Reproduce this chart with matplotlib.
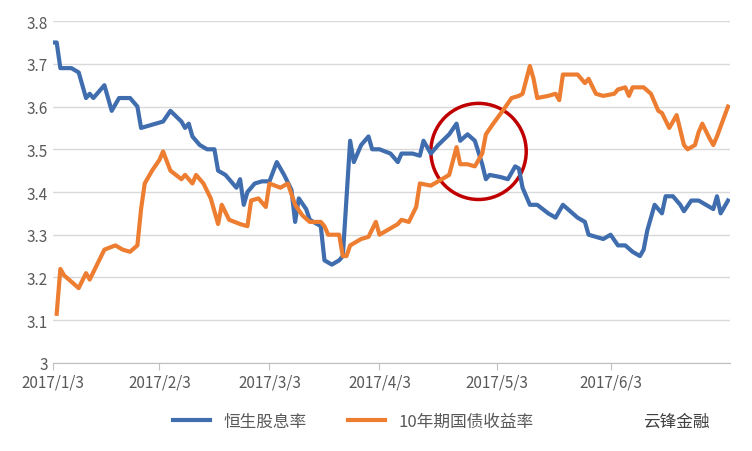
import matplotlib
matplotlib.use("Agg")
import matplotlib.pyplot as plt
from matplotlib.patches import Ellipse

plt.rcParams['font.family'] = ['Noto Sans CJK SC', 'DejaVu Sans']

blue_x = [0,1,2,5,7,9,10,11,14,16,18,21,23,24,26,30,32,35,36,37,38,40,42,44,45,47,48,50,51,52,53,55,57,59,61,63,65,66,67,69,70,72,73,74,76,78,79,81,82,84,86,87,89,92,94,95,98,100,101,103,105,108,110,111,113,115,117,118,119,122,124,126,127,128,130,132,135,137,139,141,143,145,146,148,150,152,154,156,158,160,161,162,164,166,167,169,171,172,174,176,178,180,181,182,184]
blue_y = [3.75,3.75,3.69,3.69,3.68,3.62,3.63,3.62,3.65,3.59,3.62,3.62,3.60,3.55,3.555,3.565,3.59,3.565,3.55,3.56,3.53,3.51,3.50,3.50,3.45,3.44,3.43,3.41,3.43,3.37,3.40,3.42,3.425,3.425,3.47,3.44,3.405,3.33,3.385,3.36,3.335,3.325,3.32,3.24,3.23,3.24,3.25,3.52,3.47,3.51,3.53,3.50,3.50,3.49,3.47,3.49,3.49,3.485,3.52,3.49,3.51,3.535,3.56,3.52,3.535,3.52,3.465,3.43,3.44,3.435,3.43,3.46,3.455,3.41,3.37,3.37,3.35,3.34,3.37,3.355,3.34,3.33,3.30,3.295,3.29,3.30,3.275,3.275,3.26,3.25,3.265,3.31,3.37,3.35,3.39,3.39,3.37,3.355,3.38,3.38,3.37,3.36,3.39,3.35,3.38]

orange_x = [1,2,3,5,7,9,10,12,14,17,19,21,23,24,25,27,29,30,32,35,36,38,39,41,43,45,46,48,51,53,54,56,58,59,62,64,66,68,70,73,74,75,78,79,80,81,84,86,88,89,92,94,95,97,99,100,103,105,108,110,111,113,115,117,118,120,123,125,127,128,130,131,132,135,137,138,139,142,143,145,146,148,150,153,154,156,157,158,161,163,165,166,168,170,172,173,175,176,177,179,180,181,184]
orange_y = [3.115,3.22,3.205,3.19,3.175,3.21,3.195,3.23,3.265,3.275,3.265,3.26,3.275,3.36,3.42,3.45,3.475,3.495,3.45,3.43,3.44,3.42,3.44,3.42,3.385,3.325,3.37,3.335,3.325,3.32,3.38,3.385,3.365,3.42,3.41,3.42,3.37,3.345,3.33,3.33,3.32,3.30,3.30,3.25,3.25,3.275,3.29,3.295,3.33,3.30,3.315,3.325,3.335,3.33,3.365,3.42,3.415,3.425,3.44,3.505,3.465,3.465,3.46,3.49,3.535,3.56,3.595,3.62,3.625,3.63,3.695,3.665,3.62,3.625,3.63,3.615,3.675,3.675,3.675,3.655,3.665,3.63,3.625,3.63,3.64,3.645,3.625,3.645,3.645,3.63,3.59,3.585,3.55,3.58,3.51,3.50,3.51,3.54,3.56,3.525,3.51,3.53,3.60]

tick_pos = [0, 29, 59, 89, 121, 152]
tick_labels = ['2017/1/3', '2017/2/3', '2017/3/3', '2017/4/3', '2017/5/3', '2017/6/3']
y_ticks = [3, 3.1, 3.2, 3.3, 3.4, 3.5, 3.6, 3.7, 3.8]
y_labels = ['3', '3.1', '3.2', '3.3', '3.4', '3.5', '3.6', '3.7', '3.8']

fig = plt.figure(figsize=(7.52, 4.52), dpi=100)
ax = fig.add_axes([0.0705, 0.195, 0.90, 0.756])
ax.plot(blue_x, blue_y, color='#3F6DAE', lw=3, label='恒生股息率', solid_joinstyle='round')
ax.plot(orange_x, orange_y, color='#ED7D31', lw=3, label='10年期国债收益率', solid_joinstyle='round')
ax.set_xlim(0, 184.5)
ax.set_ylim(3, 3.8)
ax.set_yticks(y_ticks, y_labels)
ax.set_xticks(tick_pos, tick_labels)
ax.grid(axis='y', color='#D9D9D9', lw=1)
ax.set_axisbelow(True)
for s in ['top', 'right', 'left']:
    ax.spines[s].set_visible(False)
ax.spines['bottom'].set_color('#BFBFBF')
ax.tick_params(axis='both', length=0, labelsize=11, colors='#595959')
ax.tick_params(axis='x', length=5, color='#BFBFBF', pad=3)
ax.add_patch(Ellipse((116, 3.495), 26, 0.225, fill=False, ec='#C00000', lw=2.5))
fig.legend(loc='center', bbox_to_anchor=(0.47, 0.065), ncol=2, frameon=False,
           fontsize=12, handlelength=2.2, columnspacing=2.5, labelcolor='#595959')
fig.text(0.855, 0.065, '云锋金融', fontsize=12, color='#404040', va='center')
fig.savefig('out.png', dpi=100)
